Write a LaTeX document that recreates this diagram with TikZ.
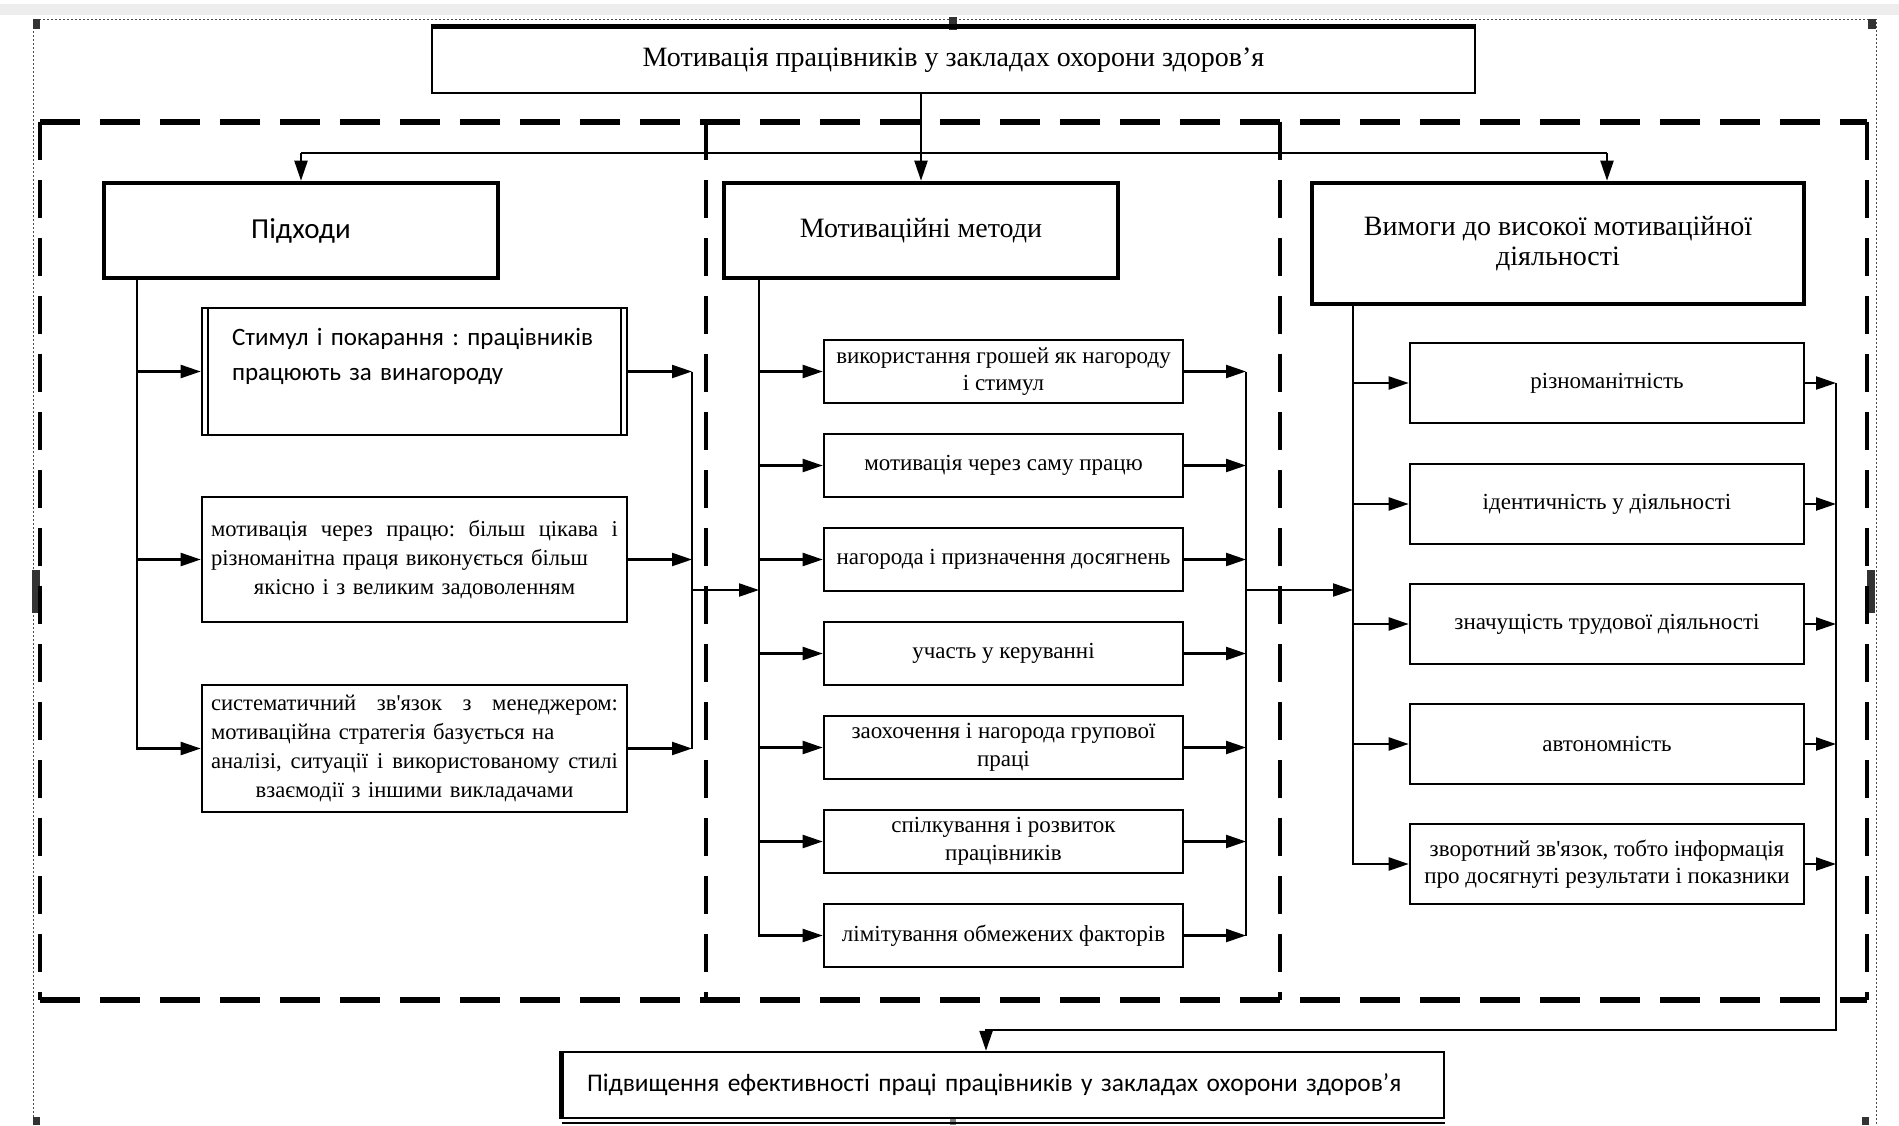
\documentclass[tikz,border=0pt]{standalone}
\usepackage{fontspec}
\setmainfont{Liberation Serif}
\newfontfamily\carl{Carlito}
\usetikzlibrary{arrows.meta,calc}
\frenchspacing
\begin{document}
\begin{tikzpicture}[x=0.5pt,y=-0.5pt,
  bxs/.style={draw, line width=1.3pt, inner sep=0pt, align=center},
  hdr/.style={draw, line width=2.3pt, inner sep=0pt, align=center, font=\fontsize{14pt}{15pt}\selectfont},
  mbx/.style={bxs, minimum width=179.5pt, minimum height=31.5pt, font=\fontsize{11.5pt}{13.75pt}\selectfont},
  rbx/.style={bxs, minimum width=197pt, minimum height=40pt, font=\fontsize{11.5pt}{13.75pt}\selectfont},
  lbx/.style={bxs, text width=203.5pt, inner xsep=4.5pt, align=left, font=\fontsize{11.3pt}{14.5pt}\selectfont},
  conn/.style={line width=1.1pt},
  arr/.style={conn, -{Triangle[length=10pt,width=6.5pt]}},
  hnd/.style={fill=black!80},
  ]
\useasboundingbox (0,0) rectangle (1899,1125);
\fill[white] (0,0) rectangle (1899,1125);
\fill[gray!14] (0,4) rectangle (1899,15);
% outer dotted frame
\draw[gray!60!black, line width=0.5pt, dash pattern=on 1pt off 1pt] (33,1125) -- (33,19) -- (1876,19) -- (1876,1125);
% handles
\fill[hnd] (33,19) rectangle (40,29);
\fill[hnd] (1868,19) rectangle (1876,29);
\fill[hnd] (949,17) rectangle (957,30);
\fill[hnd] (32,570) rectangle (40,613);
\fill[hnd] (1867,570) rectangle (1875,613);
\fill[hnd] (33,1117) rectangle (40,1125);
\fill[hnd] (1862,1117) rectangle (1869,1125);
\fill[gray] (950,1117) rectangle (956,1125);
% dashed container
\draw[line width=3pt, dash pattern=on 20pt off 10pt] (40,122) -- (1867,122);
\draw[line width=3pt, dash pattern=on 20pt off 10pt] (40,1000) -- (1867,1000);
\draw[line width=2.4pt, dash pattern=on 19pt off 10pt] (40,122) -- (40,1000);
\draw[line width=2.4pt, dash pattern=on 19pt off 10pt] (1867,122) -- (1867,1000);
\draw[line width=2pt, dash pattern=on 19pt off 10pt] (706,122) -- (706,1000);
\draw[line width=2pt, dash pattern=on 19pt off 10pt] (1280,122) -- (1280,1000);

% title
\node[draw, line width=1.2pt, minimum width=521.5pt, minimum height=32.5pt, inner sep=0pt,
  font=\fontsize{14pt}{16pt}\selectfont] (title) at (953.5,60.5) {Мотивація працівників у закладах охорони здоров’я};
\draw[line width=2.6pt] (title.north west) -- (title.north east);

% headers
\node[hdr, minimum width=197pt, minimum height=47.5pt, font=\carl\fontsize{14.5pt}{16pt}\selectfont] (h1) at (301,230.5) {Підходи};
\node[hdr, minimum width=197pt, minimum height=47.5pt] (h2) at (921,230.5) {Мотиваційні методи};
\node[hdr, minimum width=246pt, minimum height=60.5pt] (h3) at (1558,243.5) {Вимоги до високої мотиваційної\\діяльності};

% left boxes
\node[lbx, minimum height=63.5pt, text width=182.5pt, inner xsep=15pt, font=\carl\fontsize{12.5pt}{17.5pt}\selectfont] (L1) at (414.5,371.5)
  {\mbox{Стимул і покарання : працівників}\\\mbox{працюють за винагороду}\\\mbox{}};
\draw[line width=1pt] ([xshift=3.5pt]L1.north west) -- ([xshift=3.5pt]L1.south west);
\draw[line width=1pt] ([xshift=-3.5pt]L1.north east) -- ([xshift=-3.5pt]L1.south east);
\node[lbx, minimum height=62.5pt] (L2) at (414.5,559.5)
  {\makebox[203.5pt][s]{мотивація\hfill через\hfill працю:\hfill більш\hfill цікава\hfill і}\\
   \makebox[203.5pt][l]{різноманітна праця виконується більш}\\
   \makebox[203.5pt][c]{якісно і з великим задоволенням}};
\node[lbx, minimum height=63.5pt] (L3) at (414.5,748.5)
  {\makebox[203.5pt][s]{систематичний\hfill зв\textquotesingle язок\hfill з\hfill менеджером:}\\
   \makebox[203.5pt][l]{мотиваційна стратегія базується на}\\
   \makebox[203.5pt][s]{аналізі,\hfill ситуації\hfill і\hfill використованому\hfill стилі}\\
   \makebox[203.5pt][c]{взаємодії з іншими викладачами}};

% middle boxes
\node[mbx] (M1) at (1003.5,371.5) {використання грошей як нагороду\\і стимул};
\node[mbx] (M2) at (1003.5,465.5) {мотивація через саму працю};
\node[mbx] (M3) at (1003.5,559.5) {нагорода і призначення досягнень};
\node[mbx] (M4) at (1003.5,653.5) {участь у керуванні};
\node[mbx] (M5) at (1003.5,747.5) {заохочення і нагорода групової\\праці};
\node[mbx] (M6) at (1003.5,841.5) {спілкування і розвиток\\працівників};
\node[mbx] (M7) at (1003.5,935.5) {лімітування обмежених факторів};

% right boxes
\node[rbx] (R1) at (1607,383) {різноманітність};
\node[rbx] (R2) at (1607,504) {ідентичність у діяльності};
\node[rbx] (R3) at (1607,624) {значущість трудової діяльності};
\node[rbx] (R4) at (1607,744) {автономність};
\node[rbx] (R5) at (1607,864) {зворотний зв\textquotesingle язок, тобто інформація\\про досягнуті результати і показники};

% bottom box
\node[draw, line width=1.2pt, minimum height=33pt, inner ysep=0pt, inner xsep=12pt, text width=416.5pt, align=left,
  font=\carl\fontsize{12.7pt}{15pt}\selectfont] (B) at (1003.5,1085) {Підвищення ефективності праці працівників у закладах охорони здоров’я};
\draw[line width=2.6pt] (B.north west) -- (B.south west);
\draw[line width=1pt] ([yshift=-2pt]B.south west) -- ([yshift=-2pt]B.south east);

% top connectors
\coordinate (busy) at (0,153);
\coordinate (h3in) at ([xshift=24.5pt]h3.north);
\draw[arr] (title.south -| h2.north) -- (h2.north);
\draw[conn] (h1.north |- busy) -- (h3in |- busy);
\draw[arr] (h1.north |- busy) -- (h1.north);
\draw[arr] (h3in |- busy) -- (h3in);

% left column
\coordinate (sL) at ([xshift=-82pt]h1.south);
\draw[arr] (sL) |- (L3.west);
\draw[arr] (sL |- L1.west) -- (L1.west);
\draw[arr] (sL |- L2.west) -- (L2.west);
\coordinate (cL) at (692,371.5);
\foreach \k in {1,2,3} {\draw[arr] (L\k.east) -- (L\k.east -| cL);}
\draw[conn] (L1.east -| cL) -- (L3.east -| cL);
\coordinate (jL) at (692,590);

% middle column
\coordinate (sM) at ([xshift=-81pt]h2.south);
\draw[arr] (jL) -- (jL -| sM);
\draw[arr] (sM) |- (M7.west);
\foreach \k in {1,...,6} {\draw[arr] (sM |- M\k.west) -- (M\k.west);}
\coordinate (cM) at (1246,371.5);
\foreach \k in {1,...,7} {\draw[arr] (M\k.east) -- (M\k.east -| cM);}
\draw[conn] (M1.east -| cM) -- (M7.east -| cM);
\coordinate (jM) at (1246,590);

% right column
\coordinate (sR) at ([xshift=-102.5pt]h3.south);
\draw[arr] (jM) -- (jM -| sR);
\draw[arr] (sR) |- (R5.west);
\foreach \k in {1,...,4} {\draw[arr] (sR |- R\k.west) -- (R\k.west);}
\coordinate (cR) at (1836,383);
\foreach \k in {1,...,5} {\draw[arr] (R\k.east) -- (R\k.east -| cR);}
\coordinate (turn) at (1836,1030);
\coordinate (bin) at ([xshift=-8.75pt]B.north);
\draw[arr] (cR) -- (turn) -| (bin);
\end{tikzpicture}
\end{document}
